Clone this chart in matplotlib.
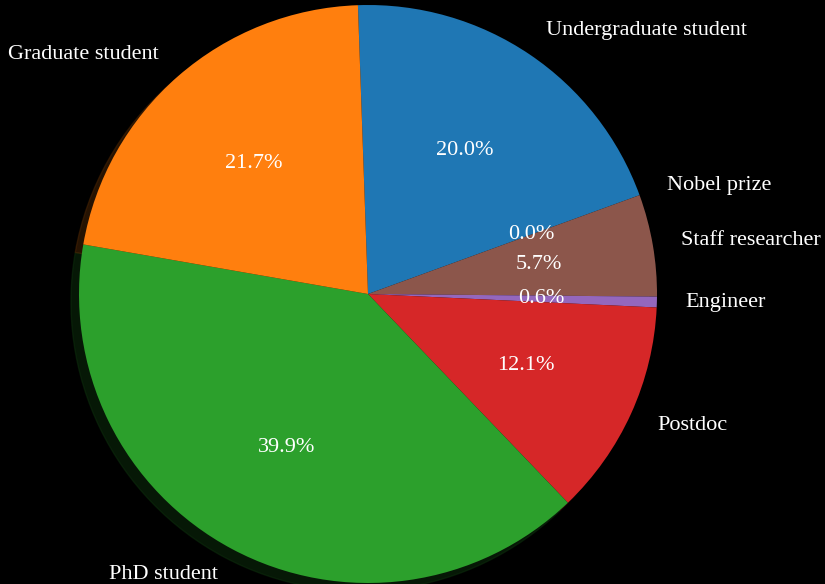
import matplotlib.pyplot as plt
import numpy as np

labels = ['Undergraduate student', 'Nobel prize', 'Staff researcher', 'Engineer',
          'Postdoc', 'PhD student', 'Graduate student']
shares = [20.0, 0.0, 5.7, 0.6, 12.1, 39.9, 21.7]
colors = ['#1f77b4', '#e377c2', '#8c564b', '#9467bd', '#d62728', '#2ca02c', '#ff7f0e']

plt.rcParams['font.family'] = ['Liberation Serif', 'DejaVu Serif']

fig = plt.figure(figsize=(8.25, 5.84), dpi=100, facecolor='black')
ax = fig.add_axes([0, 0, 1, 1])
ax.set_facecolor('black')

wedges, texts, autotexts = ax.pie(shares, labels=labels, autopct='%1.1f%%',
                                  startangle=92, counterclock=False, shadow=True,
                                  colors=colors, textprops=dict(color='white', fontsize=16))

# pie centre at (368, 290) px from bottom-left, radius 289 px
r = 289.0
ax.set_xlim(-368 / r, (825 - 368) / r)
ax.set_ylim(-290 / r, (584 - 290) / r)
ax.set_aspect('auto')
ax.axis('off')

fig.savefig('out.png', dpi=100, facecolor='black')
